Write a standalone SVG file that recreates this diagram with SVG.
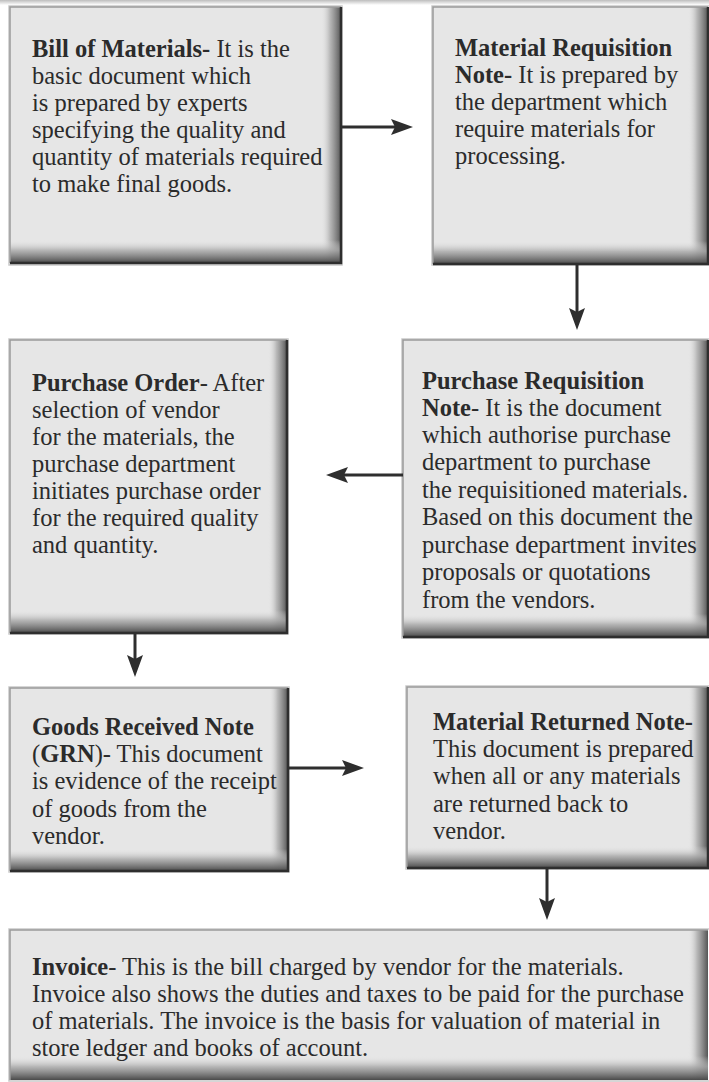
<svg xmlns="http://www.w3.org/2000/svg" width="709" height="1082" viewBox="0 0 709 1082">
<style>
.face{fill:#e6e6e6}
.halo{fill:none;stroke:#c9c9c9;stroke-width:1.5}
.bevB{fill:url(#gB)}
.bevR{fill:url(#gR)}
.edgeD{fill:none;stroke:#2e2e2e;stroke-width:2.5}
.edgeL{fill:none;stroke:#9a9a9a;stroke-width:1.5}
text{font-family:"Liberation Serif","Times New Roman",serif;font-size:24.5px;fill:#2b2b2b}
.b{font-weight:bold}
.conn line{stroke:#2e2e2e;stroke-width:3}
</style>
<defs>
<linearGradient id="gB" x1="0" y1="0" x2="0" y2="1">
<stop offset="0" stop-color="#e6e6e6" stop-opacity="0"/>
<stop offset="0.45" stop-color="#a8a8a8" stop-opacity="0.8"/>
<stop offset="1" stop-color="#4a4a4a"/>
</linearGradient>
<linearGradient id="gR" x1="0" y1="0" x2="1" y2="0">
<stop offset="0" stop-color="#e6e6e6" stop-opacity="0"/>
<stop offset="0.45" stop-color="#acacac" stop-opacity="0.8"/>
<stop offset="1" stop-color="#555555"/>
</linearGradient>
<linearGradient id="gTop" x1="0" y1="0" x2="0" y2="1">
<stop offset="0" stop-color="#bdbdbd"/>
<stop offset="1" stop-color="#ffffff"/>
</linearGradient>
<marker id="ah" viewBox="0 0 22 16" markerWidth="22" markerHeight="16" refX="12" refY="8" markerUnits="userSpaceOnUse" orient="auto">
<path d="M0,0 L22,8 L0,16 L4,8 Z" fill="#2e2e2e"/>
</marker>
</defs>
<rect x="0" y="0" width="709" height="1082" fill="#ffffff"/>
<rect x="0" y="0" width="709" height="5" fill="url(#gTop)"/>

<g id="bill-of-materials">
<rect class="halo" x="9" y="6" width="333" height="259"/>
<rect class="face" x="10" y="7" width="331" height="256"/>
<rect class="bevR" x="321" y="7" width="20" height="256"/>
<rect class="bevB" x="10" y="240" width="331" height="23"/>
<path class="edgeL" d="M10,263 V7 H341"/>
<path class="edgeD" d="M341,7 V263 H10"/>
<text x="32" y="57"><tspan class="b">Bill of Materials-</tspan> It is the</text>
<text x="32" y="84">basic document which</text>
<text x="32" y="111">is prepared by experts</text>
<text x="32" y="138">specifying the quality and</text>
<text x="32" y="165">quantity of materials required</text>
<text x="32" y="192">to make final goods.</text>
</g>

<g id="material-requisition-note">
<rect class="halo" x="432" y="6" width="278" height="259"/>
<rect class="face" x="433" y="7" width="275" height="257"/>
<rect class="bevR" x="688" y="7" width="20" height="257"/>
<rect class="bevB" x="433" y="241" width="275" height="23"/>
<path class="edgeL" d="M433,264 V7 H708"/>
<path class="edgeD" d="M708,7 V264 H433"/>
<text x="455" y="56" class="b">Material Requisition</text>
<text x="455" y="83"><tspan class="b">Note-</tspan> It is prepared by</text>
<text x="455" y="110">the department which</text>
<text x="455" y="137">require materials for</text>
<text x="455" y="164">processing.</text>
</g>

<g id="purchase-order">
<rect class="halo" x="9" y="339" width="279" height="295"/>
<rect class="face" x="10" y="340" width="277" height="293"/>
<rect class="bevR" x="268" y="340" width="19" height="293"/>
<rect class="bevB" x="10" y="610" width="277" height="23"/>
<path class="edgeL" d="M10,633 V340 H287"/>
<path class="edgeD" d="M287,340 V633 H10"/>
<text x="32" y="391"><tspan class="b">Purchase Order</tspan>- After</text>
<text x="32" y="418">selection of vendor</text>
<text x="32" y="445">for the materials, the</text>
<text x="32" y="472">purchase department</text>
<text x="32" y="499">initiates purchase order</text>
<text x="32" y="526">for the required quality</text>
<text x="32" y="553">and quantity.</text>
</g>

<g id="purchase-requisition-note">
<rect class="halo" x="402" y="339" width="308" height="299"/>
<rect class="face" x="403" y="340" width="305" height="297"/>
<rect class="bevR" x="688" y="340" width="20" height="297"/>
<rect class="bevB" x="403" y="614" width="305" height="23"/>
<path class="edgeL" d="M403,637 V340 H708"/>
<path class="edgeD" d="M708,340 V637 H403"/>
<text x="422" y="389" class="b">Purchase Requisition</text>
<text x="422" y="416"><tspan class="b">Note</tspan>- It is the document</text>
<text x="422" y="443">which authorise purchase</text>
<text x="422" y="470">department to purchase</text>
<text x="422" y="498">the requisitioned materials.</text>
<text x="422" y="525">Based on this document the</text>
<text x="422" y="553">purchase department invites</text>
<text x="422" y="580">proposals or quotations</text>
<text x="422" y="608">from the vendors.</text>
</g>

<g id="goods-received-note">
<rect class="halo" x="9" y="687" width="280" height="185"/>
<rect class="face" x="10" y="688" width="278" height="183"/>
<rect class="bevR" x="269" y="688" width="19" height="183"/>
<rect class="bevB" x="10" y="849" width="278" height="22"/>
<path class="edgeL" d="M10,871 V688 H288"/>
<path class="edgeD" d="M288,688 V871 H10"/>
<text x="32" y="735" class="b">Goods Received Note</text>
<text x="32" y="762">(<tspan class="b">GRN</tspan>)- This document</text>
<text x="32" y="789">is evidence of the receipt</text>
<text x="32" y="817">of goods from the</text>
<text x="32" y="844">vendor.</text>
</g>

<g id="material-returned-note">
<rect class="halo" x="406" y="686" width="304" height="183"/>
<rect class="face" x="407" y="687" width="301" height="181"/>
<rect class="bevR" x="688" y="687" width="20" height="181"/>
<rect class="bevB" x="407" y="846" width="301" height="22"/>
<path class="edgeL" d="M407,868 V687 H708"/>
<path class="edgeD" d="M708,687 V868 H407"/>
<text x="433" y="730" class="b">Material Returned Note-</text>
<text x="433" y="757">This document is prepared</text>
<text x="433" y="784">when all or any materials</text>
<text x="433" y="812">are returned back to</text>
<text x="433" y="839">vendor.</text>
</g>

<g id="invoice">
<rect class="halo" x="9" y="929" width="701" height="152"/>
<rect class="face" x="10" y="930" width="698" height="150"/>
<rect class="bevR" x="688" y="930" width="20" height="150"/>
<rect class="bevB" x="10" y="1056" width="698" height="24"/>
<path class="edgeL" d="M10,1080 V930 H708"/>
<text x="32" y="975"><tspan class="b">Invoice</tspan>- This is the bill charged by vendor for the materials.</text>
<text x="32" y="1002">Invoice also shows the duties and taxes to be paid for the purchase</text>
<text x="32" y="1029">of materials. The invoice is the basis for valuation of material in</text>
<text x="32" y="1056">store ledger and books of account.</text>
</g>

<g id="connectors" class="conn">
<line x1="342" y1="127" x2="403" y2="127" marker-end="url(#ah)"/>
<line x1="577" y1="265" x2="577" y2="320" marker-end="url(#ah)"/>
<line x1="403" y1="475" x2="336" y2="475" marker-end="url(#ah)"/>
<line x1="135" y1="634" x2="135" y2="667" marker-end="url(#ah)"/>
<line x1="289" y1="768" x2="354" y2="768" marker-end="url(#ah)"/>
<line x1="547" y1="869" x2="547" y2="910" marker-end="url(#ah)"/>
</g>
</svg>
